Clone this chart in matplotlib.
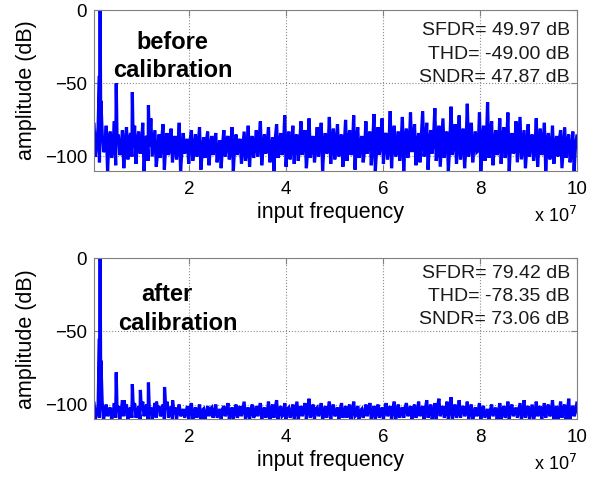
import numpy as np
import matplotlib
matplotlib.use("Agg")
import matplotlib.pyplot as plt

plt.rcParams['font.family'] = ['Liberation Sans', 'DejaVu Sans']

# frequency axis in units of 1e7 Hz
f_start, f_stop = 0.04, 10.0
f0 = 0.166

# ---- before calibration: noise floor upper / lower / middle excursions (dB)
before_hi = [-78, -80, -84, -79, -83, -76, -85, -82, -80, -84,
             -79, -83, -77, -86, -74, -82, -85, -78, -84, -81,
             -86, -77, -84, -88, -82, -85, -80, -87, -83, -86,
             -84, -89, -82, -86, -80, -85, -88, -83, -79, -86,
             -82, -76, -85, -80, -87, -78, -84, -72, -83, -79,
             -85, -76, -82, -74, -86, -80, -77, -84, -73, -81,
             -78, -85, -75, -82, -72, -80, -86, -76, -83, -71,
             -80, -74, -84, -69, -79, -83, -73, -81, -70, -78,
             -84, -69, -77, -82, -67, -79, -74, -83, -66, -78,
             -72, -81, -64, -77, -83, -70, -79, -63, -76, -82,
             -74, -80, -70, -84, -76, -73, -82, -78, -85, -74,
             -81, -77, -84, -79, -86, -82, -80, -85, -83, -86]
before_lo = [-100, -104, -97, -110, -101, -106, -99, -108, -102, -100,
             -105, -98, -110, -103, -100, -107, -101, -109, -99, -104,
             -102, -110, -98, -105, -103, -100, -109, -101, -106, -99,
             -104, -108, -100, -102, -110, -99, -105, -103, -107, -101,
             -100, -106, -98, -104, -110, -101, -99, -107, -102, -105,
             -103, -99, -108, -101, -104, -100, -110, -98, -105, -102,
             -100, -107, -103, -99, -109, -101, -104, -98, -106, -110,
             -99, -105, -102, -108, -100, -103, -110, -101, -97, -106,
             -104, -100, -109, -98, -103, -107, -101, -110, -99, -105,
             -102, -108, -100, -104, -97, -110, -103, -101, -106, -99,
             -105, -101, -110, -98, -104, -102, -108, -100, -103, -107,
             -99, -110, -102, -105, -100, -108, -101, -104, -110, -100]
before_mid = [-92, -88, -95, -90, -93, -87, -96, -91, -89, -94,
              -90, -95, -88, -93, -91, -97, -89, -92, -94, -90,
              -93, -96, -91, -89, -95, -92, -97, -90, -94, -91,
              -95, -92, -89, -96, -93, -90, -94, -97, -91, -93,
              -89, -94, -91, -96, -88, -92, -95, -90, -93, -87,
              -92, -89, -95, -91, -94, -88, -93, -96, -90, -92,
              -88, -93, -90, -95, -89, -92, -96, -87, -91, -94,
              -90, -86, -93, -89, -95, -91, -88, -94, -90, -92,
              -87, -93, -90, -88, -95, -91, -86, -93, -89, -92,
              -90, -94, -88, -91, -96, -89, -93, -87, -92, -95,
              -89, -93, -91, -96, -88, -92, -94, -90, -95, -91,
              -93, -90, -96, -92, -89, -94, -91, -97, -93, -95]
# tones: leakage bin, fundamental, leakage bin and harmonics
before_tone_f = [0.150, f0, 0.182, 3 * f0, 5 * f0, 7 * f0]
before_tone_db = [-45, 0, -62, -50, -56, -65]

# ---- after calibration
after_hi = [-99, -101, -98, -100, -102, -99, -101, -97, -100, -102,
            -99, -101, -98, -100, -102, -99, -101, -100, -98, -101,
            -102, -100, -103, -101, -99, -102, -100, -103, -101, -102,
            -100, -103, -101, -99, -102, -100, -101, -98, -102, -100,
            -101, -99, -102, -98, -100, -97, -101, -99, -102, -100,
            -98, -101, -99, -96, -100, -102, -99, -101, -98, -100,
            -102, -99, -101, -100, -98, -101, -103, -100, -99, -101,
            -100, -102, -99, -101, -98, -100, -102, -99, -101, -100,
            -98, -101, -97, -100, -99, -96, -101, -98, -95, -100,
            -97, -101, -98, -100, -102, -99, -101, -103, -100, -102,
            -99, -101, -98, -100, -102, -99, -97, -101, -100, -98,
            -101, -99, -100, -97, -101, -98, -100, -96, -101, -99]
after_lo = [-110, -109, -110, -108, -110, -109, -110, -108, -110, -109,
            -109, -110, -108, -110, -110, -109, -108, -110, -109, -110,
            -110, -108, -109, -110, -110, -109, -110, -110, -108, -109,
            -109, -110, -108, -110, -110, -109, -108, -110, -110, -109,
            -108, -110, -109, -110, -109, -110, -108, -110, -109, -110,
            -110, -108, -110, -109, -110, -108, -110, -109, -110, -108,
            -110, -109, -109, -110, -108, -110, -109, -108, -110, -110,
            -109, -110, -108, -110, -110, -109, -109, -108, -110, -109,
            -108, -110, -109, -110, -110, -108, -109, -110, -110, -109,
            -109, -108, -110, -110, -108, -110, -109, -110, -108, -110,
            -110, -109, -110, -108, -109, -110, -109, -110, -110, -108,
            -110, -109, -108, -110, -110, -109, -110, -110, -108, -109]
after_mid = [-105, -103, -106, -104, -107, -103, -105, -106, -104, -102,
             -106, -104, -103, -107, -105, -104, -106, -103, -105, -107,
             -104, -106, -105, -103, -107, -105, -104, -106, -103, -105,
             -106, -103, -105, -107, -104, -106, -103, -105, -104, -107,
             -103, -105, -106, -104, -102, -105, -107, -103, -106, -104,
             -105, -103, -104, -106, -103, -105, -107, -104, -103, -106,
             -104, -106, -103, -105, -107, -104, -106, -103, -105, -104,
             -106, -104, -105, -103, -106, -104, -102, -105, -103, -106,
             -104, -103, -105, -106, -102, -104, -105, -103, -104, -106,
             -103, -105, -104, -107, -105, -103, -106, -104, -105, -107,
             -104, -106, -103, -105, -104, -106, -103, -105, -107, -104,
             -105, -103, -106, -104, -105, -103, -106, -104, -105, -103]
after_tone_f = [0.150, f0, 0.182, 3 * f0, 4 * f0, 5 * f0, 6 * f0,
                7 * f0, 8 * f0, 9 * f0, 10 * f0]
after_tone_db = [-55, 0, -70, -78, -97, -86, -90, -85, -98, -88, -97]

before_stats = ['SFDR= 49.97 dB', 'THD= -49.00 dB', 'SNDR= 47.87 dB']
after_stats = ['SFDR= 79.42 dB', 'THD= -78.35 dB', 'SNDR= 73.06 dB']


def spectrum(hi, lo, mid, tone_f, tone_db):
    n = len(hi)
    grid = np.linspace(f_start, f_stop, n)
    step = grid[1] - grid[0]
    f = np.concatenate([grid, grid[:-1] + step / 3,
                        grid[:-1] + 2 * step / 3, tone_f])
    a = np.concatenate([hi, lo[:-1], mid[:-1], tone_db])
    order = np.argsort(f, kind='stable')
    return f[order], a[order]


def panel(ax, hi, lo, mid, tone_f, tone_db, title, title_pos, stats, stats_y):
    f, a = spectrum(hi, lo, mid, tone_f, tone_db)
    ax.plot(f, a, color='#0000ff', lw=2.3, solid_joinstyle='miter')
    ax.set_xlim(f_start, f_stop)
    ax.set_ylim(-110, 0)
    ax.set_xticks([2, 4, 6, 8, 10])
    ax.set_yticks([-100, -50, 0])
    ax.grid(True, ls=':', color='0.55', lw=0.8)
    for s in ax.spines.values():
        s.set_color('0.5')
    ax.tick_params(direction='in', top=True, right=True, length=4,
                   color='0.5', labelsize=13.5)
    ax.tick_params(axis='x', pad=7)
    ax.tick_params(axis='y', pad=5)
    ax.set_ylabel('amplitude (dB)', fontsize=15.5)
    ax.yaxis.set_label_coords(-0.118, 0.5)
    ax.set_xlabel('input frequency', fontsize=15.5)
    ax.xaxis.set_label_coords(0.49, -0.19)
    ax.text(1.0, -0.28, r'x 10$^{7}$', transform=ax.transAxes,
            ha='right', va='center', fontsize=13)
    for word, (x, y) in zip(title, title_pos):
        ax.text(x, y, word, transform=ax.transAxes, ha='center',
                va='center', fontsize=17, fontweight='bold')
    for line, y in zip(stats, stats_y):
        ax.text(0.9855, y, line, transform=ax.transAxes, ha='right',
                va='center', fontsize=14, color='0.1')


fig = plt.figure(figsize=(5.99, 4.78), dpi=100)
ax1 = fig.add_axes([0.157, 0.642, 0.806, 0.337])
ax2 = fig.add_axes([0.157, 0.123, 0.806, 0.337])

panel(ax1, before_hi, before_lo, before_mid, before_tone_f, before_tone_db,
      ['before', 'calibration'], [(0.162, 0.800), (0.164, 0.627)],
      before_stats, [0.870, 0.727, 0.584])
panel(ax2, after_hi, after_lo, after_mid, after_tone_f, after_tone_db,
      ['after', 'calibration'], [(0.151, 0.775), (0.174, 0.592)],
      after_stats, [0.905, 0.763, 0.620])

fig.savefig('out.png', dpi=100)
